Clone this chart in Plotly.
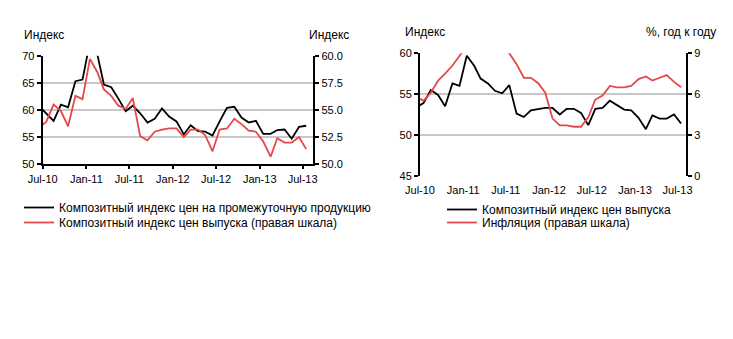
import pandas as pd
import plotly.graph_objects as go

# ---------------- data ----------------
# monthly observations, Jun-10 ... Jul-13 (first point lies just left of the axis)
months = pd.period_range("2010-06", "2013-07", freq="M")
dates = (months.to_timestamp() + pd.Timedelta(days=15)).strftime("%Y-%m-%d").tolist()

# Composite input price index (left chart, left axis)
input_index = [60.7, 59.3, 58.0, 61.0, 60.5, 65.3, 65.6, 72.5, 70.3, 64.7,
               64.2, 62.1, 59.8, 60.8, 59.4, 57.7, 58.4, 60.3, 58.8, 57.9,
               55.5, 57.2, 56.1, 56.0, 55.3, 57.9, 60.4, 60.6, 58.6, 57.7,
               58.0, 55.6, 55.6, 56.3, 56.4, 54.7, 56.9, 57.1]

# Composite output price index (left chart right axis, right chart left axis)
output_index = [53.4, 53.9, 55.5, 54.9, 53.5, 56.3, 56.0, 59.7, 58.5, 56.9,
                56.3, 55.4, 55.1, 56.1, 52.6, 52.2, 53.0, 53.2, 53.3, 53.3,
                52.5, 53.2, 53.2, 52.7, 51.2, 53.2, 53.3, 54.2, 53.7, 53.1,
                53.0, 52.1, 50.7, 52.4, 52.0, 52.0, 52.5, 51.4]

# Inflation, % y/y (right chart, right axis)
inflation = [5.8, 5.5, 6.1, 7.0, 7.5, 8.1, 8.8, 9.6, 9.5, 9.5,
             9.6, 9.6, 9.4, 9.0, 8.2, 7.2, 7.2, 6.8, 6.1, 4.2,
             3.7, 3.7, 3.6, 3.6, 4.3, 5.6, 5.9, 6.6, 6.5, 6.5,
             6.6, 7.1, 7.3, 7.0, 7.2, 7.4, 6.9, 6.5]

tick_dates = ["2010-07-01", "2011-01-01", "2011-07-01", "2012-01-01",
              "2012-07-01", "2013-01-01", "2013-07-01"]
tick_text = ["Jul-10", "Jan-11", "Jul-11", "Jan-12", "Jul-12", "Jan-13", "Jul-13"]

names_left = ["Композитный индекс цен на промежуточную продукцию",
              "Композитный индекс цен выпуска (правая шкала)"]
names_right = ["Композитный индекс цен выпуска",
               "Инфляция (правая шкала)"]

# ---------------- style ----------------
W, H = 733, 339
BLACK = "#000000"
RED = "#e6474a"
GRID = "#c8c8c8"
FONT = "Liberation Sans, Arial, sans-serif"
TICKF = dict(family=FONT, size=11, color=BLACK)


def px_x(p):
    return p / W


def px_y(p):
    return 1 - p / H


fig = go.Figure()
line_w = 1.8
fig.add_trace(go.Scatter(x=dates, y=input_index, mode="lines", name=names_left[0],
                         line=dict(color=BLACK, width=line_w), xaxis="x", yaxis="y",
                         legend="legend"))
fig.add_trace(go.Scatter(x=dates, y=output_index, mode="lines", name=names_left[1],
                         line=dict(color=RED, width=line_w), xaxis="x", yaxis="y2",
                         legend="legend2"))
fig.add_trace(go.Scatter(x=dates, y=output_index, mode="lines", name=names_right[0],
                         line=dict(color=BLACK, width=line_w), xaxis="x3", yaxis="y3",
                         legend="legend3"))
fig.add_trace(go.Scatter(x=dates, y=inflation, mode="lines", name=names_right[1],
                         line=dict(color=RED, width=line_w), xaxis="x3", yaxis="y4",
                         legend="legend4"))

axis_common = dict(linecolor=BLACK, linewidth=2, tickcolor=BLACK, tickwidth=1.5,
                   ticklen=4, ticks="outside", tickfont=TICKF, zeroline=False,
                   automargin=False)

left_dom_x = [px_x(42.7), px_x(313.3)]
left_dom_y = [px_y(164.3), px_y(55.7)]
right_dom_x = [px_x(420), px_x(686)]
right_dom_y = [px_y(175.7), px_y(53.3)]


def legend_at(x_line_start, y_center):
    return dict(x=px_x(x_line_start - 5), y=px_y(y_center - 16),
                xanchor="left", yanchor="top", bgcolor="rgba(0,0,0,0)",
                font=dict(family=FONT, size=12, color=BLACK),
                tracegroupgap=0, itemwidth=30)


fig.update_layout(
    template="none",
    width=W, height=H, autosize=False,
    margin=dict(l=0, r=0, t=0, b=0, pad=0, autoexpand=False),
    paper_bgcolor="white", plot_bgcolor="white",
    font=dict(family=FONT, size=11, color=BLACK),
    showlegend=True,
    xaxis=dict(domain=left_dom_x, anchor="y", type="date",
               range=["2010-07-01", "2013-08-15"],
               tickmode="array", tickvals=tick_dates, ticktext=tick_text,
               showline=True, showgrid=False, **{**axis_common, "ticklen": 3}),
    yaxis=dict(domain=left_dom_y, anchor="x", range=[50, 70], tick0=50, dtick=5,
               showline=True, showgrid=True, gridcolor=GRID, gridwidth=1.5,
               **axis_common),
    yaxis2=dict(overlaying="y", side="right", anchor="x", range=[50, 60],
                tick0=50, dtick=2.5, tickformat=".1f", showline=True,
                showgrid=False, **axis_common),
    xaxis3=dict(domain=right_dom_x, anchor="y3", type="date",
                range=["2010-07-01", "2013-08-06"],
                tickmode="array", tickvals=tick_dates, ticktext=tick_text,
                showline=False, showgrid=False,
                **{**axis_common, "tickcolor": "rgba(0,0,0,0)"}),
    xaxis4=dict(overlaying="x3", anchor="free",
                position=right_dom_y[0] + (50 - 45) / 15 * (right_dom_y[1] - right_dom_y[0]),
                type="date", range=["2010-07-01", "2013-08-06"],
                tickmode="array", tickvals=tick_dates, showticklabels=False,
                showline=True, showgrid=False, **{**axis_common, "ticklen": 3}),
    yaxis3=dict(domain=right_dom_y, anchor="x3", range=[45, 60], tick0=45, dtick=5,
                showline=True, showgrid=True, gridcolor=GRID, gridwidth=1.5,
                **axis_common),
    yaxis4=dict(overlaying="y3", side="right", anchor="x3", range=[0, 9],
                tick0=0, dtick=3, showline=True, showgrid=False, **axis_common),
    legend=legend_at(24, 209),
    legend2=legend_at(24, 224),
    legend3=legend_at(447, 211),
    legend4=legend_at(447, 224),
)

title_font = dict(family=FONT, size=12, color=BLACK)
annots = [
    ("Индекс", 22, 35, "left"),
    ("Индекс", 307, 35, "left"),
    ("Индекс", 403, 32.5, "left"),
    ("%, год к году", 718, 32.5, "right"),
]
for txt, x, y, anc in annots:
    fig.add_annotation(text=txt, x=px_x(x), y=px_y(y), xref="paper", yref="paper",
                       xanchor=anc, yanchor="middle", showarrow=False, font=title_font)

fig.write_html("out.html")
